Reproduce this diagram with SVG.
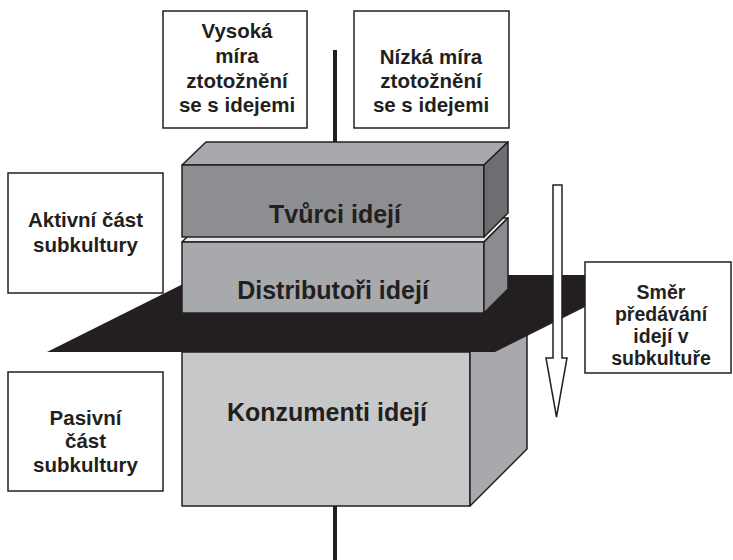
<svg xmlns="http://www.w3.org/2000/svg" width="733" height="560" viewBox="0 0 733 560">
<style>
.box{fill:#ffffff;stroke:#231f20;stroke-width:1.5}
.face{stroke:#231f20;stroke-width:1.5;stroke-linejoin:round}
.t{font-family:"Liberation Sans",Arial,sans-serif;font-weight:bold;fill:#231f20;text-anchor:middle}
.s{font-size:20.5px}
.m{font-size:19.5px}
.b{font-size:25px}
</style>
<rect width="733" height="560" fill="#ffffff"/>
<g id="connectors">
<line x1="335" y1="50" x2="335" y2="150" stroke="#231f20" stroke-width="4"/>
<line x1="335" y1="505" x2="335" y2="560" stroke="#231f20" stroke-width="4"/>
</g>
<g id="konzumenti">
<rect class="face" x="182" y="352" width="288" height="154" fill="#c7c8ca"/>
<polygon class="face" points="470,352 527,295 527,449 470,506" fill="#a7a9ac"/>
<text class="t b" x="327" y="421">Konzumenti idejí</text>
</g>
<g id="plane">
<polygon points="47,352 495,352 649,275 201,275" fill="#231f20"/>
</g>
<g id="distributori">
<polygon class="face" points="182,242 206,218 508,218 484,242" fill="#e8e8e9"/>
<rect class="face" x="182" y="242" width="302" height="71" fill="#a7a9ac"/>
<polygon class="face" points="484,242 508,218 508,289 484,313" fill="#8a8c8f"/>
<text class="t b" x="333" y="299">Distributoři idejí</text>
</g>
<g id="tvurci">
<polygon class="face" points="182,165 206,142 508,142 484,165" fill="#a7a9ac"/>
<rect class="face" x="182" y="165" width="302" height="72" fill="#8c8e91"/>
<polygon class="face" points="484,165 508,142 508,213 484,237" fill="#6d6e71"/>
<text class="t b" x="335" y="223">Tvůrci idejí</text>
</g>
<g id="vysoka">
<rect class="box" x="163" y="11" width="144" height="117"/>
<text class="t s" x="237" y="38">Vysoká</text>
<text class="t s" x="237" y="63">míra</text>
<text class="t s" x="237" y="88">ztotožnění</text>
<text class="t s" x="237" y="112">se s idejemi</text>
</g>
<g id="nizka">
<rect class="box" x="354" y="11" width="155" height="117"/>
<text class="t s" x="431" y="64">Nízká míra</text>
<text class="t s" x="431" y="88">ztotožnění</text>
<text class="t s" x="431" y="112">se s idejemi</text>
</g>
<g id="aktivni">
<rect class="box" x="8" y="173" width="155" height="120"/>
<text class="t s" x="85.5" y="227">Aktivní část</text>
<text class="t s" x="85.5" y="252">subkultury</text>
</g>
<g id="pasivni">
<rect class="box" x="8" y="372" width="155" height="119"/>
<text class="t s" x="85.5" y="425">Pasivní</text>
<text class="t s" x="85.5" y="448">část</text>
<text class="t s" x="85.5" y="472">subkultury</text>
</g>
<g id="smer">
<rect class="box" x="585" y="262" width="146" height="111"/>
<text class="t m" x="661" y="299">Směr</text>
<text class="t m" x="661" y="321">předávání</text>
<text class="t m" x="661" y="343">idejí v</text>
<text class="t m" x="661" y="365">subkultuře</text>
</g>
<g id="arrow">
<polygon points="553,185 562,185 562,358 567,358 556.5,417 546,358 553,358" fill="#ffffff" stroke="#231f20" stroke-width="1.5" stroke-linejoin="miter"/>
</g>
</svg>
